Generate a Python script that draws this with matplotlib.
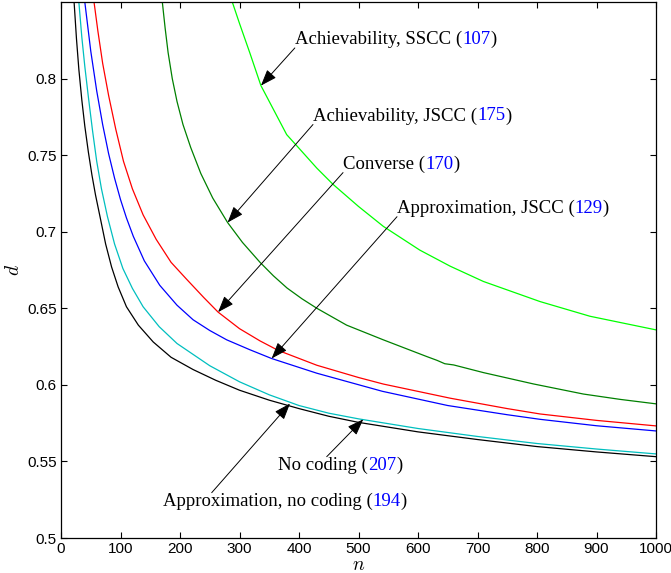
"""Distortion d versus blocklength n: converse, achievability and approximations."""

from __future__ import annotations

import matplotlib

matplotlib.use("Agg")
import matplotlib.pyplot as plt
from matplotlib.offsetbox import AnnotationBbox, HPacker, TextArea
from matplotlib.ticker import FormatStrFormatter, MultipleLocator

# values
n_nocoding = [22, 26, 30, 35, 40, 46, 52, 58, 66, 75, 85, 96, 110, 130, 155,
              185, 222, 260, 300, 350, 400, 450, 500, 600, 700, 800, 900, 1000]
d_nocoding = [0.850, 0.826, 0.806, 0.786, 0.769, 0.752, 0.737, 0.724, 0.709,
              0.692, 0.677, 0.664, 0.651, 0.639, 0.628, 0.618, 0.610, 0.603,
              0.5965, 0.590, 0.5845, 0.5795, 0.5755, 0.5693, 0.5643, 0.5597,
              0.5562, 0.5531]

n_approx_nocoding = [30, 35, 40, 46, 53, 60, 68, 78, 90, 104, 120, 138, 165,
                     195, 250, 300, 350, 400, 450, 500, 600, 700, 800, 900, 1000]
d_approx_nocoding = [0.850, 0.827, 0.808, 0.788, 0.766, 0.746, 0.728, 0.710,
                     0.692, 0.676, 0.663, 0.651, 0.638, 0.627, 0.6125, 0.602,
                     0.5935, 0.5865, 0.5815, 0.5778, 0.5715, 0.5663, 0.5617,
                     0.5581, 0.5549]

n_approx_jscc = [40, 50, 60, 70, 80, 90, 100, 110, 121.5, 140, 166, 195, 222,
                 250, 278.5, 317.6, 354, 430, 540, 650, 750, 805, 900, 1000]
d_approx_jscc = [0.850, 0.818, 0.792, 0.770, 0.751, 0.735, 0.721, 0.709,
                 0.697, 0.681, 0.665, 0.652, 0.6425, 0.6355, 0.6294, 0.6229,
                 0.6172, 0.6076, 0.5958, 0.5865, 0.5805, 0.5775, 0.5733, 0.5699]

n_converse = [55.5, 62, 70, 80, 92, 105, 120, 138, 160, 185, 211, 240, 264,
              300, 334.5, 365, 430, 500, 542, 654, 750, 805, 900, 1000]
d_converse = [0.850, 0.831, 0.810, 0.789, 0.767, 0.746, 0.728, 0.711, 0.695,
              0.680, 0.669, 0.657, 0.6475, 0.6367, 0.6287, 0.6225, 0.6128,
              0.6048, 0.6005, 0.5913, 0.5845, 0.581, 0.5768, 0.5732]

n_ach_jscc = [170, 175, 180, 187, 195, 205, 218, 235, 255, 280, 305, 334.5,
              357, 380, 405, 430, 480, 541.7, 614.6, 632, 645, 660, 710, 794,
              878, 940, 1000]
d_ach_jscc = [0.851, 0.833, 0.817, 0.800, 0.785, 0.770, 0.755, 0.738, 0.722,
              0.706, 0.693, 0.680, 0.6712, 0.6632, 0.6562, 0.650, 0.639, 0.6294,
              0.6185, 0.616, 0.6138, 0.613, 0.608, 0.6006, 0.594, 0.5905,
              0.5876]

n_ach_sscc = [287, 300, 317.6, 336, 379.3, 400, 430, 457, 500, 541.7, 603, 654,
              710, 805, 889, 1000]
d_ach_sscc = [0.851, 0.836, 0.8165, 0.7954, 0.7634, 0.7545, 0.7415, 0.731,
              0.7165, 0.7035, 0.688, 0.6775, 0.6675, 0.6544, 0.6448, 0.6359]

y_ticks = [0.5, 0.55, 0.6, 0.65, 0.7, 0.75, 0.8]

plt.rcParams["mathtext.fontset"] = "cm"

SERIF = "Liberation Serif"
SANS = "Liberation Sans"


def label_box(text: str, ref: str, size: float = 13.5) -> HPacker:
    """Black label text with the equation number in blue."""
    props = {"family": SERIF, "size": size, "color": "black"}
    parts = [
        TextArea(f"{text} (", textprops=props),
        TextArea(ref, textprops={**props, "color": "blue"}),
        TextArea(")", textprops=props),
    ]
    return HPacker(children=parts, align="baseline", pad=0, sep=0)


def annotate(ax, text: str, ref: str, tip: tuple[float, float],
             tail: tuple[float, float], align: tuple[float, float]) -> None:
    box = label_box(text, ref)
    ab = AnnotationBbox(
        box, tip, xybox=tail, xycoords="data", boxcoords="data",
        box_alignment=align, frameon=False, pad=0,
        arrowprops=dict(arrowstyle="-|>,head_length=0.9,head_width=0.33",
                        color="black", lw=0.7, mutation_scale=8,
                        relpos=align, patchA=None, shrinkA=0, shrinkB=0),
    )
    ax.add_artist(ab)


fig = plt.figure(figsize=(6.71, 5.73), dpi=100)
ax = fig.add_axes([61 / 671, 1 - 538 / 573, 595 / 671, 536 / 573])

lw = 0.9
ax.plot(n_nocoding, d_nocoding, color="black", lw=lw)
ax.plot(n_approx_nocoding, d_approx_nocoding, color=(0, 0.75, 0.75), lw=lw)
ax.plot(n_approx_jscc, d_approx_jscc, color="blue", lw=lw)
ax.plot(n_converse, d_converse, color="red", lw=lw)
ax.plot(n_ach_jscc, d_ach_jscc, color=(0, 0.5, 0), lw=lw)
ax.plot(n_ach_sscc, d_ach_sscc, color=(0, 1, 0), lw=lw)

ax.set_xlim(0, 1000)
ax.set_ylim(0.5, 0.85)
ax.xaxis.set_major_locator(MultipleLocator(100))
ax.set_yticks(y_ticks)
ax.yaxis.set_major_formatter(FormatStrFormatter("%g"))
ax.tick_params(direction="in", top=True, right=True, length=4.5, width=0.8,
               labelsize=11, pad=3)
for lab in ax.get_xticklabels() + ax.get_yticklabels():
    lab.set_family(SANS)
for sp in ax.spines.values():
    sp.set_linewidth(0.9)

ax.set_xlabel("$n$", fontsize=14, labelpad=-1)
ax.set_ylabel("$d$", fontsize=14, labelpad=3)

annotate(ax, "Achievability, SSCC", "107", (336, 0.7954), (393, 0.820), (0, 0))
annotate(ax, "Achievability, JSCC", "175", (280, 0.706), (423.5, 0.770), (0, 0))
annotate(ax, "Converse", "170", (264, 0.6475), (474, 0.7386), (0, 0))
annotate(ax, "Approximation, JSCC", "129", (354, 0.6172), (564.7, 0.7098), (0, 0))
annotate(ax, "No coding", "207", (508, 0.5775), (446.6, 0.5531), (0.39, 1))
annotate(ax, "Approximation, no coding", "194", (384.9, 0.5878),
         (253.3, 0.5296), (0.2, 1))

fig.savefig("out.png", dpi=100)
